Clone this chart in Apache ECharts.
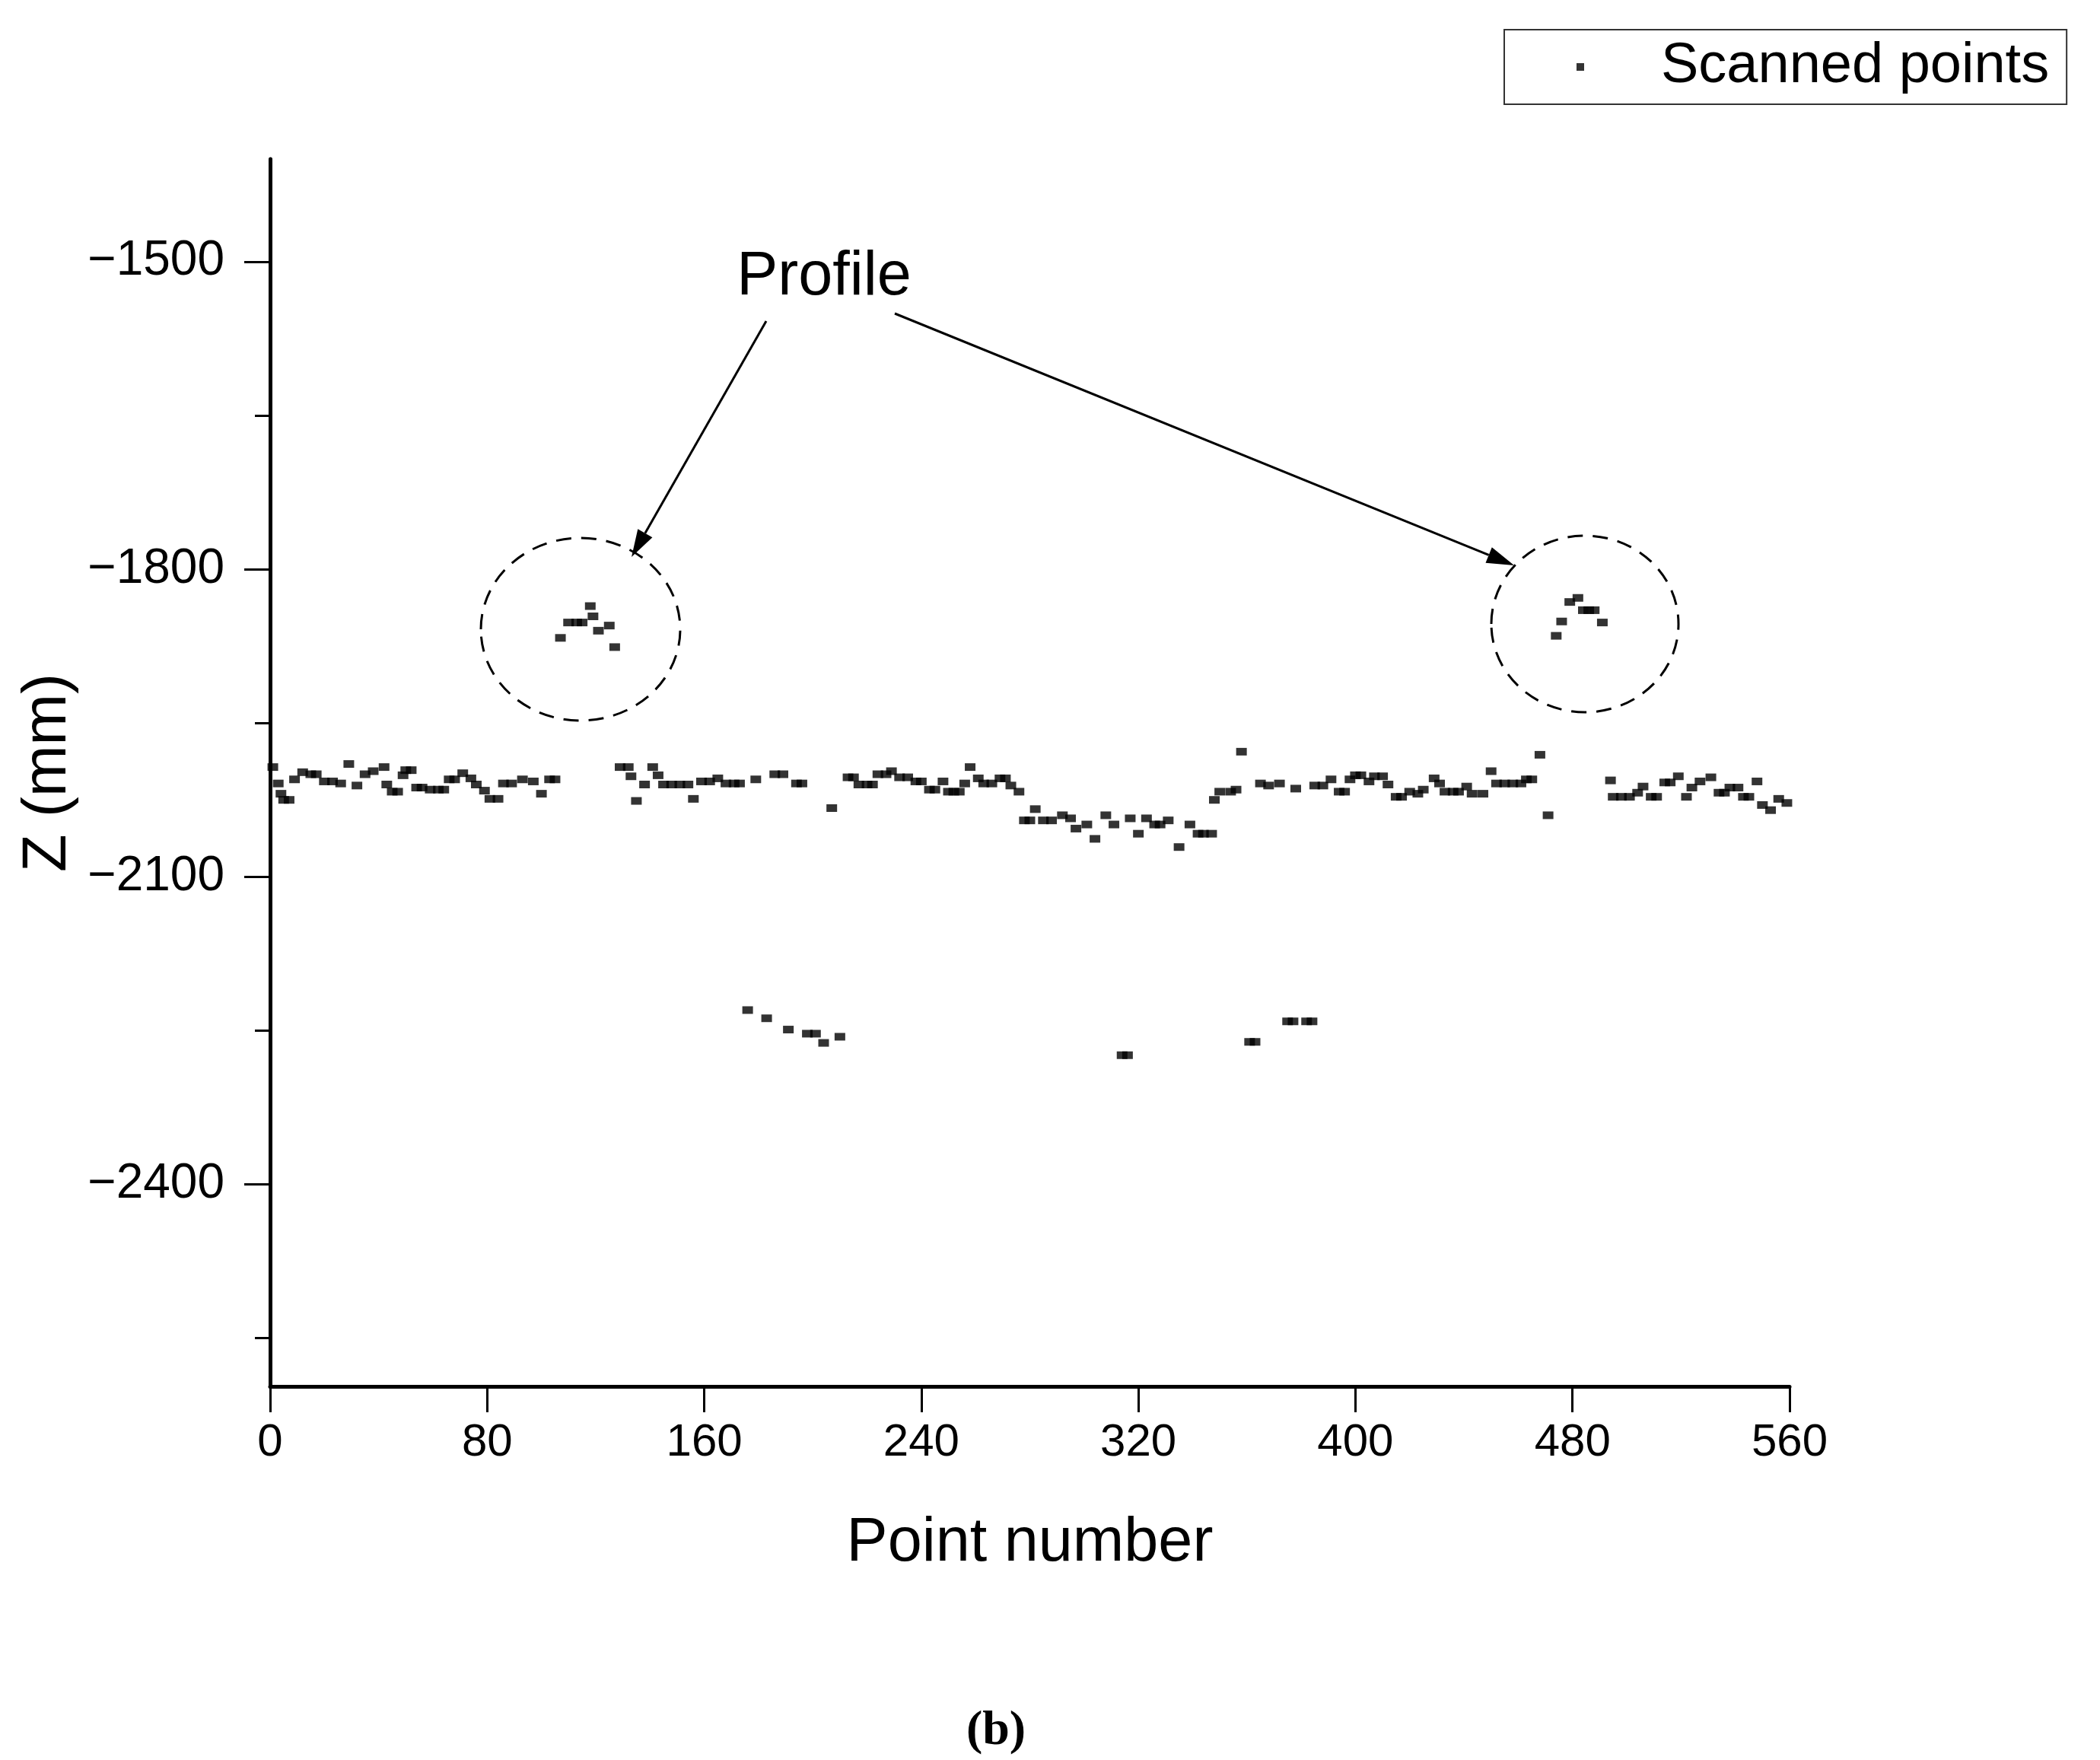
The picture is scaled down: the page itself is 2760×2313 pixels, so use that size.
<!DOCTYPE html>
<html>
<head>
<meta charset="utf-8">
<script src="https://cdn.jsdelivr.net/npm/echarts@6/dist/echarts.min.js"></script>
<style>
  html, body { margin: 0; padding: 0; background: #fff; }
  #chart { width: 2760px; height: 2313px; }
</style>
</head>
<body>
<div id="chart"></div>
<script>
// scanned points, [point number, Z (mm)]
const bandPoints = [
  [1,-1993],[3,-2009],[4,-2019],[5,-2025],[7,-2025],[9,-2005],[12,-1998],[15,-2000],[17,-2000],[20,-2007],
  [23,-2007],[26,-2009],[29,-1990],[32,-2011],[35,-2000],[38,-1997],[42,-1993],[43,-2010],[45,-2017],[47,-2017],
  [49,-2001],[50,-1996],[52,-1996],[54,-2013],[56,-2013],[59,-2015],[62,-2015],[64,-2015],[66,-2005],[68,-2005],
  [71,-1999],[74,-2004],[76,-2010],[79,-2016],[81,-2024],[84,-2024],[86,-2009],[89,-2009],[93,-2005],[97,-2007],
  [100,-2019],[103,-2005],[105,-2005],
  [129,-1993],[132,-1993],[133,-2002],[135,-2026],[138,-2010],[141,-1993],[143,-2001],[145,-2010],[148,-2010],
  [151,-2010],[154,-2010],[156,-2024],[159,-2007],[162,-2007],[165,-2004],[168,-2009],[171,-2009],[173,-2009],
  [179,-2005],[186,-2000],[189,-2000],[194,-2009],[196,-2009],
  [207,-2033],[213,-2003],[215,-2003],[217,-2010],[220,-2010],[222,-2010],[224,-2000],[227,-2000],[229,-1997],
  [232,-2003],[235,-2003],[238,-2007],[240,-2007],[243,-2015],[245,-2015],[248,-2007],[250,-2017],[252,-2017],
  [254,-2017],[256,-2009],[258,-1993],[261,-2004],[263,-2009],[266,-2009],[269,-2004],[271,-2004],[273,-2011],
  [276,-2017],[278,-2045],[280,-2045],[282,-2034],[285,-2045],[288,-2045],[292,-2040],[295,-2043],[297,-2053],
  [301,-2049],[304,-2063],[308,-2040],[311,-2049],[317,-2043],[320,-2058],[323,-2043],[326,-2049],[328,-2049],
  [331,-2045],[335,-2071],[339,-2049],[342,-2058],[344,-2058],[347,-2058],[348,-2025],[350,-2017],[354,-2017],
  [356,-2015],[358,-1978],[365,-2009],[368,-2011],[372,-2009],[378,-2014],[385,-2011],[388,-2011],[391,-2005],
  [394,-2017],[396,-2017],[398,-2005],[400,-2001],[402,-2001],[405,-2007],[407,-2002],[410,-2002],[412,-2010],
  [415,-2022],[417,-2022],[420,-2017],[423,-2019],[425,-2015],[429,-2004],[431,-2009],[433,-2017],[436,-2017],
  [438,-2017],[441,-2012],[443,-2019],[447,-2019],[450,-1997],[452,-2009],[455,-2009],[458,-2009],[461,-2009],
  [463,-2005],[465,-2005],[468,-1981],[471,-2040],
  [494,-2006],[495,-2022],[498,-2022],[501,-2022],[504,-2018],[506,-2012],[509,-2022],[511,-2022],[514,-2008],
  [516,-2008],[519,-2002],[522,-2022],[524,-2013],[527,-2007],[531,-2003],[534,-2018],[536,-2018],[538,-2013],
  [541,-2013],[543,-2022],[545,-2022],[548,-2007],[550,-2030],[553,-2035],[556,-2024],[559,-2028]
]
const profileLeft = [[107,-1867],[110,-1852],[113,-1852],[115,-1852],[118,-1836],[119,-1846],[121,-1860],[125,-1855],[127,-1876]]
const profileRight = [[474,-1865],[476,-1851],[479,-1832],[482,-1828],[484,-1840],[486,-1840],[488,-1840],[491,-1852]]
const lowerPoints = [
  [176,-2230],[183,-2238],[191,-2249],[198,-2253],[201,-2253],[204,-2262],[210,-2256],
  [314,-2274],[316,-2274],[361,-2261],[363,-2261],[375,-2241],[377,-2241],[382,-2241],[384,-2241]
]
const xTicks = [0, 80, 160, 240, 320, 400, 480, 560]
const yMajorTicks = [-2400, -2100, -1800, -1500]
const yMinorTicks = [-2550, -2250, -1950, -1650]

const FONT = 'Liberation Sans'
const chart = echarts.init(document.getElementById('chart'))

// arrow = line + filled head
function arrow(x1, y1, x2, y2) {
  const dx = x2 - x1, dy = y2 - y1
  const len = Math.sqrt(dx * dx + dy * dy)
  const ux = dx / len, uy = dy / len
  const hl = 36, hw = 11
  const bx = x2 - ux * hl, by = y2 - uy * hl
  return [
    { type: 'line', shape: { x1: x1, y1: y1, x2: bx, y2: by }, style: { stroke: '#000', lineWidth: 3 } },
    {
      type: 'polygon',
      shape: { points: [[x2, y2], [bx - uy * hw, by + ux * hw], [bx + uy * hw, by - ux * hw]] },
      style: { fill: '#000' }
    }
  ]
}

const circleStyle = { fill: null, stroke: '#000', lineWidth: 3, lineDash: [20, 13] }

const option = {
  backgroundColor: '#fff',
  animation: false,
  textStyle: { fontFamily: FONT, color: '#000' },
  grid: { left: 355, right: 408, top: 209, bottom: 491 },
  legend: {
    left: 1977,
    top: 39,
    padding: [12, 23, 12, 95],
    borderColor: '#333',
    borderWidth: 2,
    borderRadius: 0,
    itemWidth: 10,
    itemHeight: 10,
    data: [{ name: 'Scanned points', icon: 'rect' }],
    textStyle: { fontFamily: FONT, fontSize: 74, color: '#000', padding: [0, 0, 0, 96] }
  },
  xAxis: {
    type: 'value',
    min: 0,
    max: 560,
    interval: 80,
    name: 'Point number',
    nameLocation: 'middle',
    nameGap: 166,
    nameTextStyle: { fontFamily: FONT, fontSize: 81, color: '#000' },
    axisLine: { onZero: false, lineStyle: { color: '#000', width: 5 } },
    axisTick: { customValues: xTicks, length: 34, lineStyle: { color: '#000', width: 3 } },
    axisLabel: { customValues: xTicks, margin: 44, fontFamily: FONT, fontSize: 60, color: '#000' },
    splitLine: { show: false }
  },
  yAxis: [
    {
      type: 'value',
      min: -2597,
      max: -1400,
      position: 'left',
      name: 'Z (mm)',
      nameLocation: 'middle',
      nameGap: 248,
      nameTextStyle: { fontFamily: FONT, fontSize: 81, color: '#000' },
      axisLine: { show: true, onZero: false, lineStyle: { color: '#000', width: 5 } },
      axisTick: { show: true, customValues: yMajorTicks, length: 34, lineStyle: { color: '#000', width: 3 } },
      axisLabel: {
        customValues: yMajorTicks,
        margin: 60,
        fontFamily: FONT,
        fontSize: 64,
        color: '#000',
        formatter: v => String(v).replace('-', '\u2212')
      },
      splitLine: { show: false }
    },
    {
      // minor ticks only
      type: 'value',
      min: -2597,
      max: -1400,
      position: 'left',
      axisLine: { show: false, onZero: false },
      axisTick: { show: true, customValues: yMinorTicks, length: 20, lineStyle: { color: '#000', width: 3 } },
      axisLabel: { show: false },
      splitLine: { show: false }
    }
  ],
  series: [
    {
      name: 'Scanned points',
      type: 'scatter',
      symbol: 'rect',
      symbolSize: [14, 10],
      itemStyle: { color: '#000' },
      data: bandPoints.concat(profileLeft, profileRight, lowerPoints)
    }
  ],
  graphic: [
    {
      type: 'text',
      x: 1083,
      y: 365,
      style: { text: 'Profile', font: '81px "Liberation Sans"', fill: '#000', align: 'center', verticalAlign: 'middle' }
    },
    { type: 'ellipse', shape: { cx: 763, cy: 827, rx: 131, ry: 120 }, style: circleStyle },
    { type: 'ellipse', shape: { cx: 2083, cy: 820, rx: 123, ry: 116 }, style: circleStyle },
    ...arrow(1007, 422, 830, 732),
    ...arrow(1176, 412, 1990, 743),
    {
      type: 'text',
      x: 1309,
      y: 2275,
      style: { text: '(b)', font: 'bold 64px "Liberation Serif"', fill: '#000', align: 'center', verticalAlign: 'middle' }
    }
  ]
}

chart.setOption(option)
</script>
</body>
</html>
